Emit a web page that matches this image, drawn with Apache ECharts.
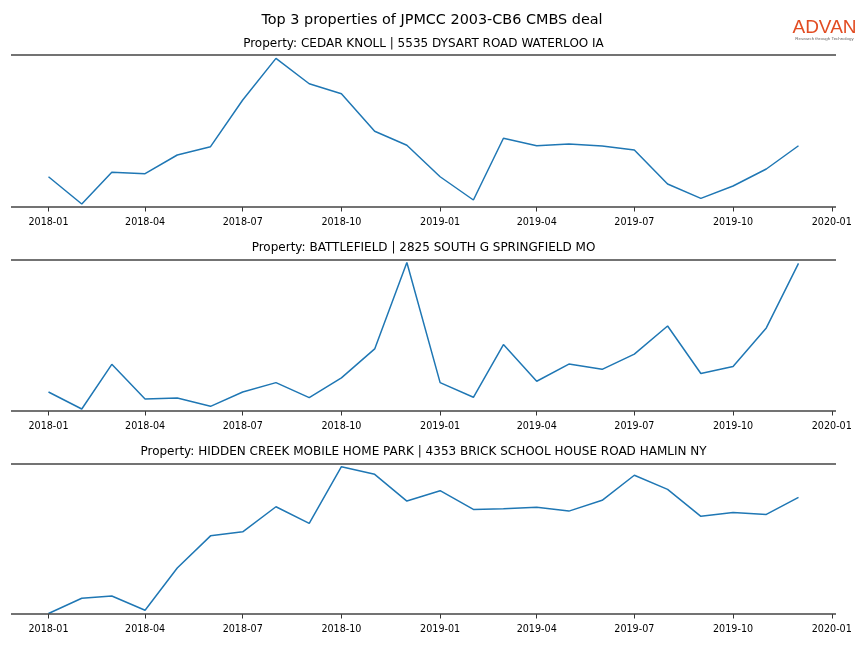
<!DOCTYPE html>
<html><head><meta charset="utf-8">
<script src="https://cdn.jsdelivr.net/npm/echarts@6/dist/echarts.min.js"></script>
<style>html,body{margin:0;padding:0;background:#fff}#c{width:864px;height:648px}</style>
</head><body><div id="c"></div>
<script>
// ---- data ----
const months = ['2018-01-01','2018-02-01','2018-03-01','2018-04-01','2018-05-01','2018-06-01',
  '2018-07-01','2018-08-01','2018-09-01','2018-10-01','2018-11-01','2018-12-01',
  '2019-01-01','2019-02-01','2019-03-01','2019-04-01','2019-05-01','2019-06-01',
  '2019-07-01','2019-08-01','2019-09-01','2019-10-01','2019-11-01','2019-12-01'];
const tickDates = ['2018-01-01','2018-04-01','2018-07-01','2018-10-01','2019-01-01',
  '2019-04-01','2019-07-01','2019-10-01','2020-01-01'];
const mainTitle = 'Top 3 properties of JPMCC 2003-CB6 CMBS deal';
const subTitles = [
  'Property: CEDAR KNOLL | 5535 DYSART ROAD WATERLOO IA',
  'Property: BATTLEFIELD | 2825 SOUTH G SPRINGFIELD MO',
  'Property: HIDDEN CREEK MOBILE HOME PARK | 4353 BRICK SCHOOL HOUSE ROAD HAMLIN NY'
];
const cedarKnoll = [19.9, 2.0, 22.8, 21.9, 34.2, 39.7, 70.4, 97.8, 81.1, 74.5, 49.8, 40.6,
  19.9, 4.6, 45.2, 40.3, 41.4, 40.1, 37.5, 15.1, 5.7, 13.8, 25.0, 40.3];
const battlefield = [12.6, 1.3, 30.9, 7.9, 8.6, 3.1, 12.6, 18.8, 8.9, 21.9, 41.1, 98.3,
  18.8, 9.1, 44.0, 19.7, 31.1, 27.6, 37.7, 56.3, 24.8, 29.4, 55.0, 97.8];
const hiddenCreek = [0.3, 10.5, 12.0, 2.5, 30.7, 52.1, 54.8, 71.5, 60.4, 98.2, 93.1, 75.3,
  82.2, 69.7, 70.1, 71.1, 68.6, 75.8, 92.5, 83.1, 65.1, 67.7, 66.4, 77.8];
const seriesList = [cedarKnoll, battlefield, hiddenCreek];

// ---- layout ----
const toTs = s => { const p = s.split('-').map(Number); return new Date(p[0], p[1]-1, p[2]).getTime(); };
const t0 = toTs(months[0]), t1 = toTs(months[months.length-1]);
const pad = (t1 - t0) * 0.05;
const gridTops = [55, 260, 464];
const gridHeights = [152, 151, 150];
const subY = [43.5, 247.5, 451.5];
const FONT = '"DejaVu Sans", sans-serif';
const spineColor = '#444';

const grids = [], xAxes = [], yAxes = [], series = [], graphics = [];
seriesList.forEach((vals, i) => {
  grids.push({left: 11, right: 28, top: gridTops[i], height: gridHeights[i]});
  xAxes.push({
    type: 'time', gridIndex: i, min: t0 - pad, max: t1 + pad, offset: 5,
    axisLine: {show: false}, splitLine: {show: false},
    axisTick: {show: true, length: 4.5, customValues: tickDates.map(toTs), lineStyle: {color: '#333', width: 1}},
    axisLabel: {show: true, customValues: tickDates.map(toTs), formatter: '{yyyy}-{MM}',
      fontFamily: FONT, fontSize: 9.6, color: '#000', margin: 5.5, hideOverlap: false}
  });
  yAxes.push({type: 'value', gridIndex: i, min: 0, max: 100, show: false});
  series.push({
    type: 'line', xAxisIndex: i, yAxisIndex: i, showSymbol: false, symbol: 'none',
    data: months.map((m, k) => [toTs(m), vals[k]]),
    lineStyle: {color: '#1f77b4', width: 1.5}, itemStyle: {color: '#1f77b4'},
    animation: false, silent: true,
    markLine: {silent: true, symbol: ['none','none'], label: {show: false}, animation: false,
      lineStyle: {color: spineColor, width: 1.7, type: 'solid'},
      data: [{yAxis: 0}, {yAxis: 100}]}
  });
  graphics.push({type: 'text', x: 423.5, y: subY[i], style: {text: subTitles[i], font: '12px ' + FONT,
    fill: '#000', textAlign: 'center', textVerticalAlign: 'middle'}});
});
graphics.push({type: 'text', x: 432, y: 20, style: {text: mainTitle, font: '14.4px ' + FONT,
  fill: '#000', textAlign: 'center', textVerticalAlign: 'middle'}});
graphics.push({type: 'text', x: 824.5, y: 28, style: {text: 'ADVAN', font: '500 19px "Liberation Sans", Arial, sans-serif',
  fill: '#e24c22', textAlign: 'center', textVerticalAlign: 'middle'}});
graphics.push({type: 'text', x: 824.5, y: 38.5, style: {text: 'Research through Technology', font: '4.4px "Liberation Sans", Arial, sans-serif',
  fill: '#666', textAlign: 'center', textVerticalAlign: 'middle'}});

const chart = echarts.init(document.getElementById('c'), null, {renderer: 'canvas'});
chart.setOption({
  backgroundColor: '#fff', animation: false,
  grid: grids, xAxis: xAxes, yAxis: yAxes, series: series, graphic: graphics
});
</script></body></html>
